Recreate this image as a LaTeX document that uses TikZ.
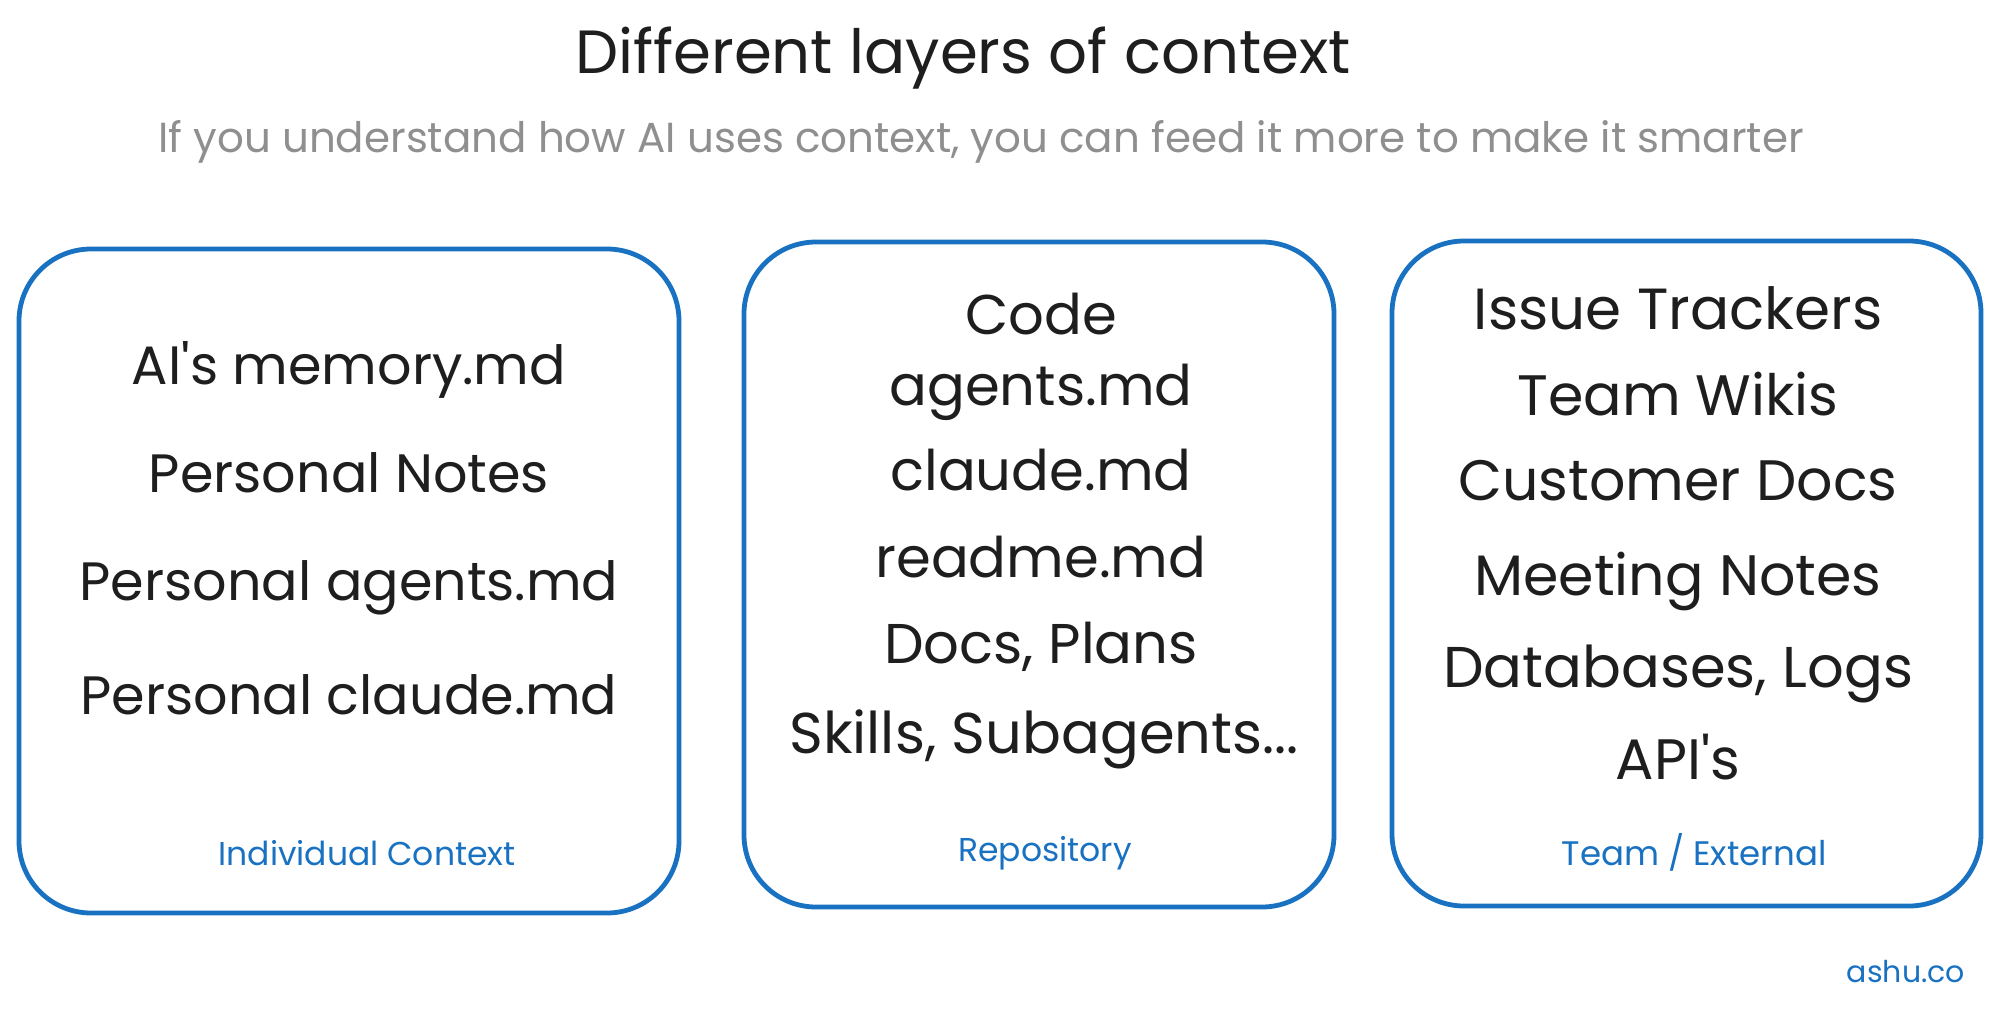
\documentclass[tikz,border=0pt]{standalone}
\usepackage{fontspec}
\setmainfont{Poppins}
\definecolor{exblue}{HTML}{1971C2}
\definecolor{exink}{HTML}{1E1E1E}
\definecolor{exgray}{HTML}{8F8F8F}
\begin{document}
\begin{tikzpicture}[x=1pt,y=-1pt,
  layerbox/.style={draw=exblue, line width=4.8pt, rounded corners=72pt, fill=white, inner sep=0pt},
  itemtext/.style={anchor=base, text=exink, inner sep=0pt, font=\fontsize{56}{60}\selectfont},
  layerlabel/.style={anchor=base, text=exblue, inner sep=0pt, font=\fontsize{33}{38}\selectfont},
]
\useasboundingbox (0,0) rectangle (2000,1012);
\fill[white] (0,0) rectangle (2000,1012);

% title and subtitle
\node[anchor=base, text=exink, inner sep=0pt, font=\fontsize{61}{66}\selectfont] (title) at (963,73) {Different layers of context};
\node[anchor=base, text=exgray, inner sep=0pt, font=\fontsize{42}{46}\selectfont] (subtitle) at (981,152) {If you understand how AI uses context, you can feed it more to make it smarter};

% boxes
\node[layerbox, minimum width=660pt, minimum height=664pt] (box1) at (349,581) {};
\node[layerbox, minimum width=590pt, minimum height=665pt] (box2) at (1039,574.5) {};
\node[layerbox, minimum width=589pt, minimum height=665pt] (box3) at (1686.5,573.5) {};

% box 1
\node[itemtext, font=\fontsize{54}{58}\selectfont] (b1a) at (349,384) {AI\textquotesingle s memory.md};
\node[itemtext, font=\fontsize{54}{58}\selectfont] (b1b) at (349,492) {Personal Notes};
\node[itemtext, font=\fontsize{54}{58}\selectfont] (b1c) at (349,600) {Personal agents.md};
\node[itemtext, font=\fontsize{54}{58}\selectfont] (b1d) at (349,714) {Personal claude.md};
\node[layerlabel] (b1l) at (367,865) {Individual Context};

% box 2
\node[itemtext] (b2a) at (1041,334) {Code};
\node[itemtext] (b2b) at (1041,405) {agents.md};
\node[itemtext] (b2c) at (1041,490) {claude.md};
\node[itemtext] (b2d) at (1041,577) {readme.md};
\node[itemtext] (b2e) at (1041,663) {Docs, Plans};
\node[itemtext, font=\fontsize{57.5}{60}\selectfont] (b2f) at (1044,753) {Skills, Subagents...};
\node[layerlabel] (b2l) at (1045,861) {Repository};

% box 3
\node[itemtext, font=\fontsize{58}{62}\selectfont] (b3a) at (1678,329) {Issue Trackers};
\node[itemtext, font=\fontsize{57}{62}\selectfont] (b3b) at (1678,415) {Team Wikis};
\node[itemtext, font=\fontsize{57}{62}\selectfont] (b3c) at (1678,500) {Customer Docs};
\node[itemtext, font=\fontsize{57}{62}\selectfont] (b3d) at (1678,595) {Meeting Notes};
\node[itemtext, font=\fontsize{57.5}{62}\selectfont] (b3e) at (1678,687) {Databases, Logs};
\node[itemtext, font=\fontsize{57}{62}\selectfont] (b3f) at (1678,779) {API\textquotesingle s};
\node[layerlabel, font=\fontsize{34}{38}\selectfont] (b3l) at (1694,865) {Team / External};

% signature
\node[anchor=base, text=exblue, inner sep=0pt, font=\fontsize{30}{34}\selectfont] (sig) at (1906,982) {ashu.co};
\end{tikzpicture}
\end{document}
